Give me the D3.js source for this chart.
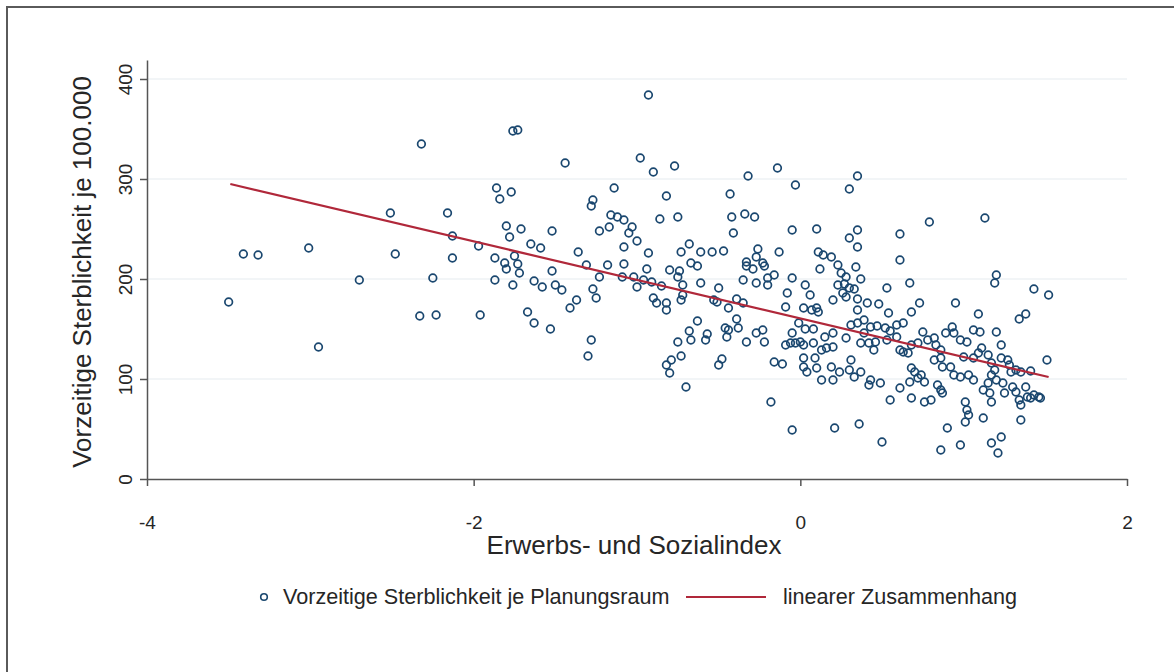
<!DOCTYPE html>
<html>
<head>
<meta charset="utf-8">
<script src="https://cdn.jsdelivr.net/npm/d3@7"></script>
<style>
    body { margin: 0; background: #fff; }
    svg { display: block; font-family: "Liberation Sans", Arial, sans-serif; }
</style>
</head>
<body>
<div id="chart"></div>
<script>
// Erwerbs- und Sozialindex je Planungsraum (x)
var sozialIndex = [
    -2.32, -1.86, -1.84, -2.51, -2.16, -2.13, -1.97, -1.87, -3.41, -3.32,
    -3.01, -2.48, -2.13, -2.70, -2.25, -1.87, -3.50, -2.33, -2.23, -1.96,
    -2.95, -0.93, -1.76, -1.73, -1.44, -0.98, -0.90, -0.77, -0.32, -0.14,
    -1.77, -1.14, -0.82, -0.43, -1.27, -1.28, -1.16, -1.12, -1.08, -0.86,
    -0.75, -0.42, -0.34, -0.28, -1.80, -1.71, -1.52, -1.23, -1.17, -1.03,
    -1.05, -1.00, -0.41, -1.78, -1.65, -1.59, -1.08, -0.68, -1.36, -0.93,
    -0.73, -0.61, -0.54, -0.47, -0.26, -0.27, -0.13, -1.75, -1.81, -1.80,
    -1.73, -1.72, -1.52, -1.31, -1.18, -1.08, -1.23, -0.94, -0.80, -0.74,
    -0.67, -0.63, -0.75, -0.33, -0.33, -0.29, -0.23, -0.22, -1.09, -1.02,
    -0.96, -0.91, -1.00, -1.76, -1.63, -1.58, -1.50, -1.46, -1.27, -1.25,
    -0.85, -0.72, -0.61, -0.50, -0.35, -0.27, -0.20, -0.16, -0.20, -0.90,
    -0.88, -0.82, -0.82, -0.73, -0.72, -1.37, -1.41, -1.67, -1.63, -1.53,
    -0.53, -0.51, -0.44, -0.39, -0.35, -0.63, -0.68, -0.67, -0.57, -0.58,
    -0.46, -0.45, -0.44, -0.39, -0.38, -0.75, -1.28, -1.30, -0.82, -0.80,
    -0.79, -0.73, -0.50, -0.48, -0.33, -0.27, -0.22, -0.23, -0.16, -0.70,
    -0.18, -0.03, 0.35, 0.30, 0.79, 1.13, -0.05, 0.10, 0.30, 0.35,
    0.35, 0.61, 0.61, 0.11, 0.14, 0.19, 0.12, 0.23, 0.25, 0.28,
    0.34, -0.05, 0.03, 0.06, -0.08, 0.23, 0.27, 0.30, 0.26, 0.28,
    0.33, 0.37, 0.20, 0.35, 0.35, 0.41, 0.48, 0.53, 0.67, 0.73,
    0.54, 0.68, 0.95, 1.20, 1.19, 1.09, 1.43, 1.52, 1.34, 1.38,
    1.51, -0.09, 0.02, 0.07, 0.10, 0.11, -0.01, 0.08, 0.03, -0.05,
    -0.09, -0.06, -0.03, 0.02, 0.15, 0.20, 0.16, 0.20, 0.28, 0.31,
    0.35, 0.39, 0.39, 0.43, 0.47, 0.52, 0.55, 0.59, 0.63, 0.00,
    0.08, -0.11, -0.05, 0.02, 0.02, 0.04, 0.09, 0.10, 0.13, 0.20,
    0.13, 0.19, 0.24, 0.30, 0.31, 0.33, 0.37, 0.21, 0.36, 0.43,
    0.49, 0.42, 0.45, 0.46, 0.42, 0.37, 0.53, 0.59, 0.61, 0.63,
    0.66, 0.50, 0.55, 0.61, 0.68, 0.68, 0.70, 0.72, 0.74, 0.76,
    0.67, 0.76, 0.80, 0.72, 0.78, 0.82, 0.83, 0.86, 0.89, 0.93,
    0.94, 0.98, 1.02, 0.86, 0.82, 0.87, 0.92, 0.84, 0.86, 0.87,
    0.90, 0.86, 0.98, 0.94, 0.98, 1.03, 1.06, 1.01, 1.02, 1.01,
    1.03, 1.00, 1.06, 1.09, 1.11, 1.15, 1.17, 1.19, 1.17, 1.20,
    1.15, 1.12, 1.16, 1.17, 1.12, 1.17, 1.21, 1.23, 1.06, 1.10,
    1.20, 1.23, 1.23, 1.27, 1.28, 1.29, 1.24, 1.30, 1.25, 1.32,
    1.34, 1.35, 1.38, 1.39, 1.41, 1.43, 1.46, 1.47, 1.35, 1.32,
    1.35, 1.41, 0.68, 0.75
];

// Vorzeitige Sterblichkeit je 100.000 (y)
var sterblichkeit = [
    335, 291, 280, 266, 266, 243, 233, 221, 225, 224,
    231, 225, 221, 199, 201, 199, 177, 163, 164, 164,
    132, 384, 348, 349, 316, 321, 307, 313, 303, 311,
    287, 291, 283, 285, 279, 273, 264, 262, 259, 260,
    262, 262, 265, 262, 253, 250, 248, 248, 252, 252,
    246, 238, 246, 242, 235, 231, 232, 235, 227, 226,
    227, 227, 227, 228, 230, 222, 227, 223, 216, 210,
    215, 206, 208, 214, 214, 215, 202, 210, 209, 208,
    216, 213, 202, 217, 213, 210, 216, 213, 202, 202,
    199, 197, 192, 194, 198, 192, 194, 189, 190, 181,
    193, 194, 196, 191, 199, 196, 201, 204, 194, 181,
    176, 176, 169, 179, 184, 179, 171, 167, 156, 150,
    179, 177, 171, 180, 176, 158, 148, 139, 145, 139,
    151, 142, 149, 160, 151, 137, 139, 123, 114, 106,
    119, 123, 114, 120, 137, 146, 137, 149, 117, 92,
    77, 294, 303, 290, 257, 261, 249, 250, 241, 249,
    232, 245, 219, 227, 224, 222, 210, 214, 206, 202,
    212, 201, 194, 184, 186, 194, 195, 191, 186, 182,
    190, 200, 179, 180, 169, 176, 175, 191, 196, 176,
    166, 167, 176, 204, 196, 165, 190, 184, 160, 165,
    119, 172, 171, 169, 171, 167, 156, 150, 150, 146,
    134, 136, 136, 134, 142, 146, 131, 132, 141, 154,
    156, 159, 146, 152, 153, 151, 148, 154, 156, 137,
    136, 115, 49, 121, 112, 107, 121, 111, 99, 99,
    129, 112, 107, 109, 119, 102, 107, 51, 55, 99,
    96, 94, 129, 137, 136, 136, 139, 142, 129, 127,
    126, 37, 79, 91, 81, 111, 107, 101, 104, 97,
    97, 77, 79, 136, 139, 141, 134, 129, 146, 152,
    146, 139, 137, 121, 119, 112, 112, 94, 89, 86,
    51, 29, 34, 104, 102, 104, 99, 77, 69, 57,
    64, 122, 121, 126, 131, 124, 116, 109, 104, 99,
    96, 89, 86, 77, 61, 36, 26, 42, 149, 147,
    147, 134, 121, 119, 114, 107, 96, 92, 86, 87,
    79, 74, 92, 82, 81, 84, 82, 81, 59, 109,
    107, 108, 134, 147
];

// linearer Zusammenhang (Endpunkte der Regressionsgeraden)
var fitX = [-3.49, 1.52];
var fitY = [295, 102];

var xTicks = [-4, -2, 0, 2];
var yTicks = [0, 100, 200, 300, 400];
var legendLabels = ["Vorzeitige Sterblichkeit je Planungsraum", "linearer Zusammenhang"];

var navy = "#1a476f";
var red = "#b0283a";
var ink = "#262626";

var svg = d3.select("#chart").append("svg")
    .attr("width", 1174)
    .attr("height", 672);

// outer frame (only top/left visible in the crop)
svg.append("rect")
    .attr("x", 7).attr("y", 7)
    .attr("width", 1200).attr("height", 700)
    .attr("fill", "none")
    .attr("stroke", "#5a5a5a")
    .attr("stroke-width", 2);

var x = d3.scaleLinear().domain([-4, 2]).range([147, 1127]);
var y = d3.scaleLinear().domain([0, 419]).range([479, 60]);

// grid
svg.append("g").selectAll("line")
    .data(yTicks.slice(1))
    .enter().append("line")
    .attr("x1", x(-4)).attr("x2", x(2))
    .attr("y1", function (d) { return y(d); })
    .attr("y2", function (d) { return y(d); })
    .attr("stroke", "#e6ecf0")
    .attr("stroke-width", 1.2);

// y axis
var yAxis = svg.append("g")
    .attr("transform", "translate(" + x(-4) + ",0)")
    .call(d3.axisLeft(y).tickValues(yTicks).tickSize(7).tickSizeOuter(0).tickFormat(d3.format("d")));
yAxis.selectAll("text")
    .attr("x", 0).attr("dy", 0)
    .attr("text-anchor", "middle")
    .attr("transform", "translate(-15,0) rotate(-90)")
    .style("font-size", "19px")
    .style("font-family", "'Liberation Sans', Arial, sans-serif")
    .attr("fill", ink);

// x axis
var xAxis = svg.append("g")
    .attr("transform", "translate(0," + y(0) + ")")
    .call(d3.axisBottom(x).tickValues(xTicks).tickSize(7).tickSizeOuter(0).tickFormat(d3.format("d")));
xAxis.selectAll("text")
    .attr("y", 0).attr("dy", 0)
    .attr("transform", "translate(0,50)")
    .style("font-size", "19px")
    .style("font-family", "'Liberation Sans', Arial, sans-serif")
    .attr("fill", ink);

svg.selectAll(".domain, .tick line")
    .attr("stroke", "#555")
    .attr("stroke-width", 1.5);
// minus sign as plain hyphen like the original
xAxis.selectAll("text").text(function (d) { return String(d); });

// axis titles
svg.append("text")
    .attr("transform", "translate(91,272) rotate(-90)")
    .attr("text-anchor", "middle")
    .style("font-size", "26px")
    .attr("fill", ink)
    .text("Vorzeitige Sterblichkeit je 100.000");

svg.append("text")
    .attr("x", 634).attr("y", 554)
    .attr("text-anchor", "middle")
    .style("font-size", "26px")
    .attr("fill", ink)
    .text("Erwerbs- und Sozialindex");

// scatter
svg.append("g").selectAll("circle")
    .data(d3.range(sozialIndex.length))
    .enter().append("circle")
    .attr("cx", function (i) { return x(sozialIndex[i]); })
    .attr("cy", function (i) { return y(sterblichkeit[i]); })
    .attr("r", 3.8)
    .attr("fill", "none")
    .attr("stroke", navy)
    .attr("stroke-width", 1.7);

// fit line
var line = d3.line()
    .x(function (d) { return x(d[0]); })
    .y(function (d) { return y(d[1]); });
svg.append("path")
    .datum(d3.zip(fitX, fitY))
    .attr("d", line)
    .attr("fill", "none")
    .attr("stroke", red)
    .attr("stroke-width", 2.2);

// legend
var legend = svg.append("g").attr("transform", "translate(0,597)");
legend.append("circle")
    .attr("cx", 264).attr("cy", 0).attr("r", 3.3)
    .attr("fill", "none").attr("stroke", navy).attr("stroke-width", 1.6);
legend.append("text")
    .attr("x", 283).attr("y", 7)
    .style("font-size", "21.6px").attr("fill", ink)
    .text(legendLabels[0]);
legend.append("line")
    .attr("x1", 686).attr("x2", 766)
    .attr("y1", 0).attr("y2", 0)
    .attr("stroke", red).attr("stroke-width", 2.2);
legend.append("text")
    .attr("x", 783).attr("y", 7)
    .style("font-size", "21.6px").attr("fill", ink)
    .text(legendLabels[1]);
</script>
</body>
</html>
